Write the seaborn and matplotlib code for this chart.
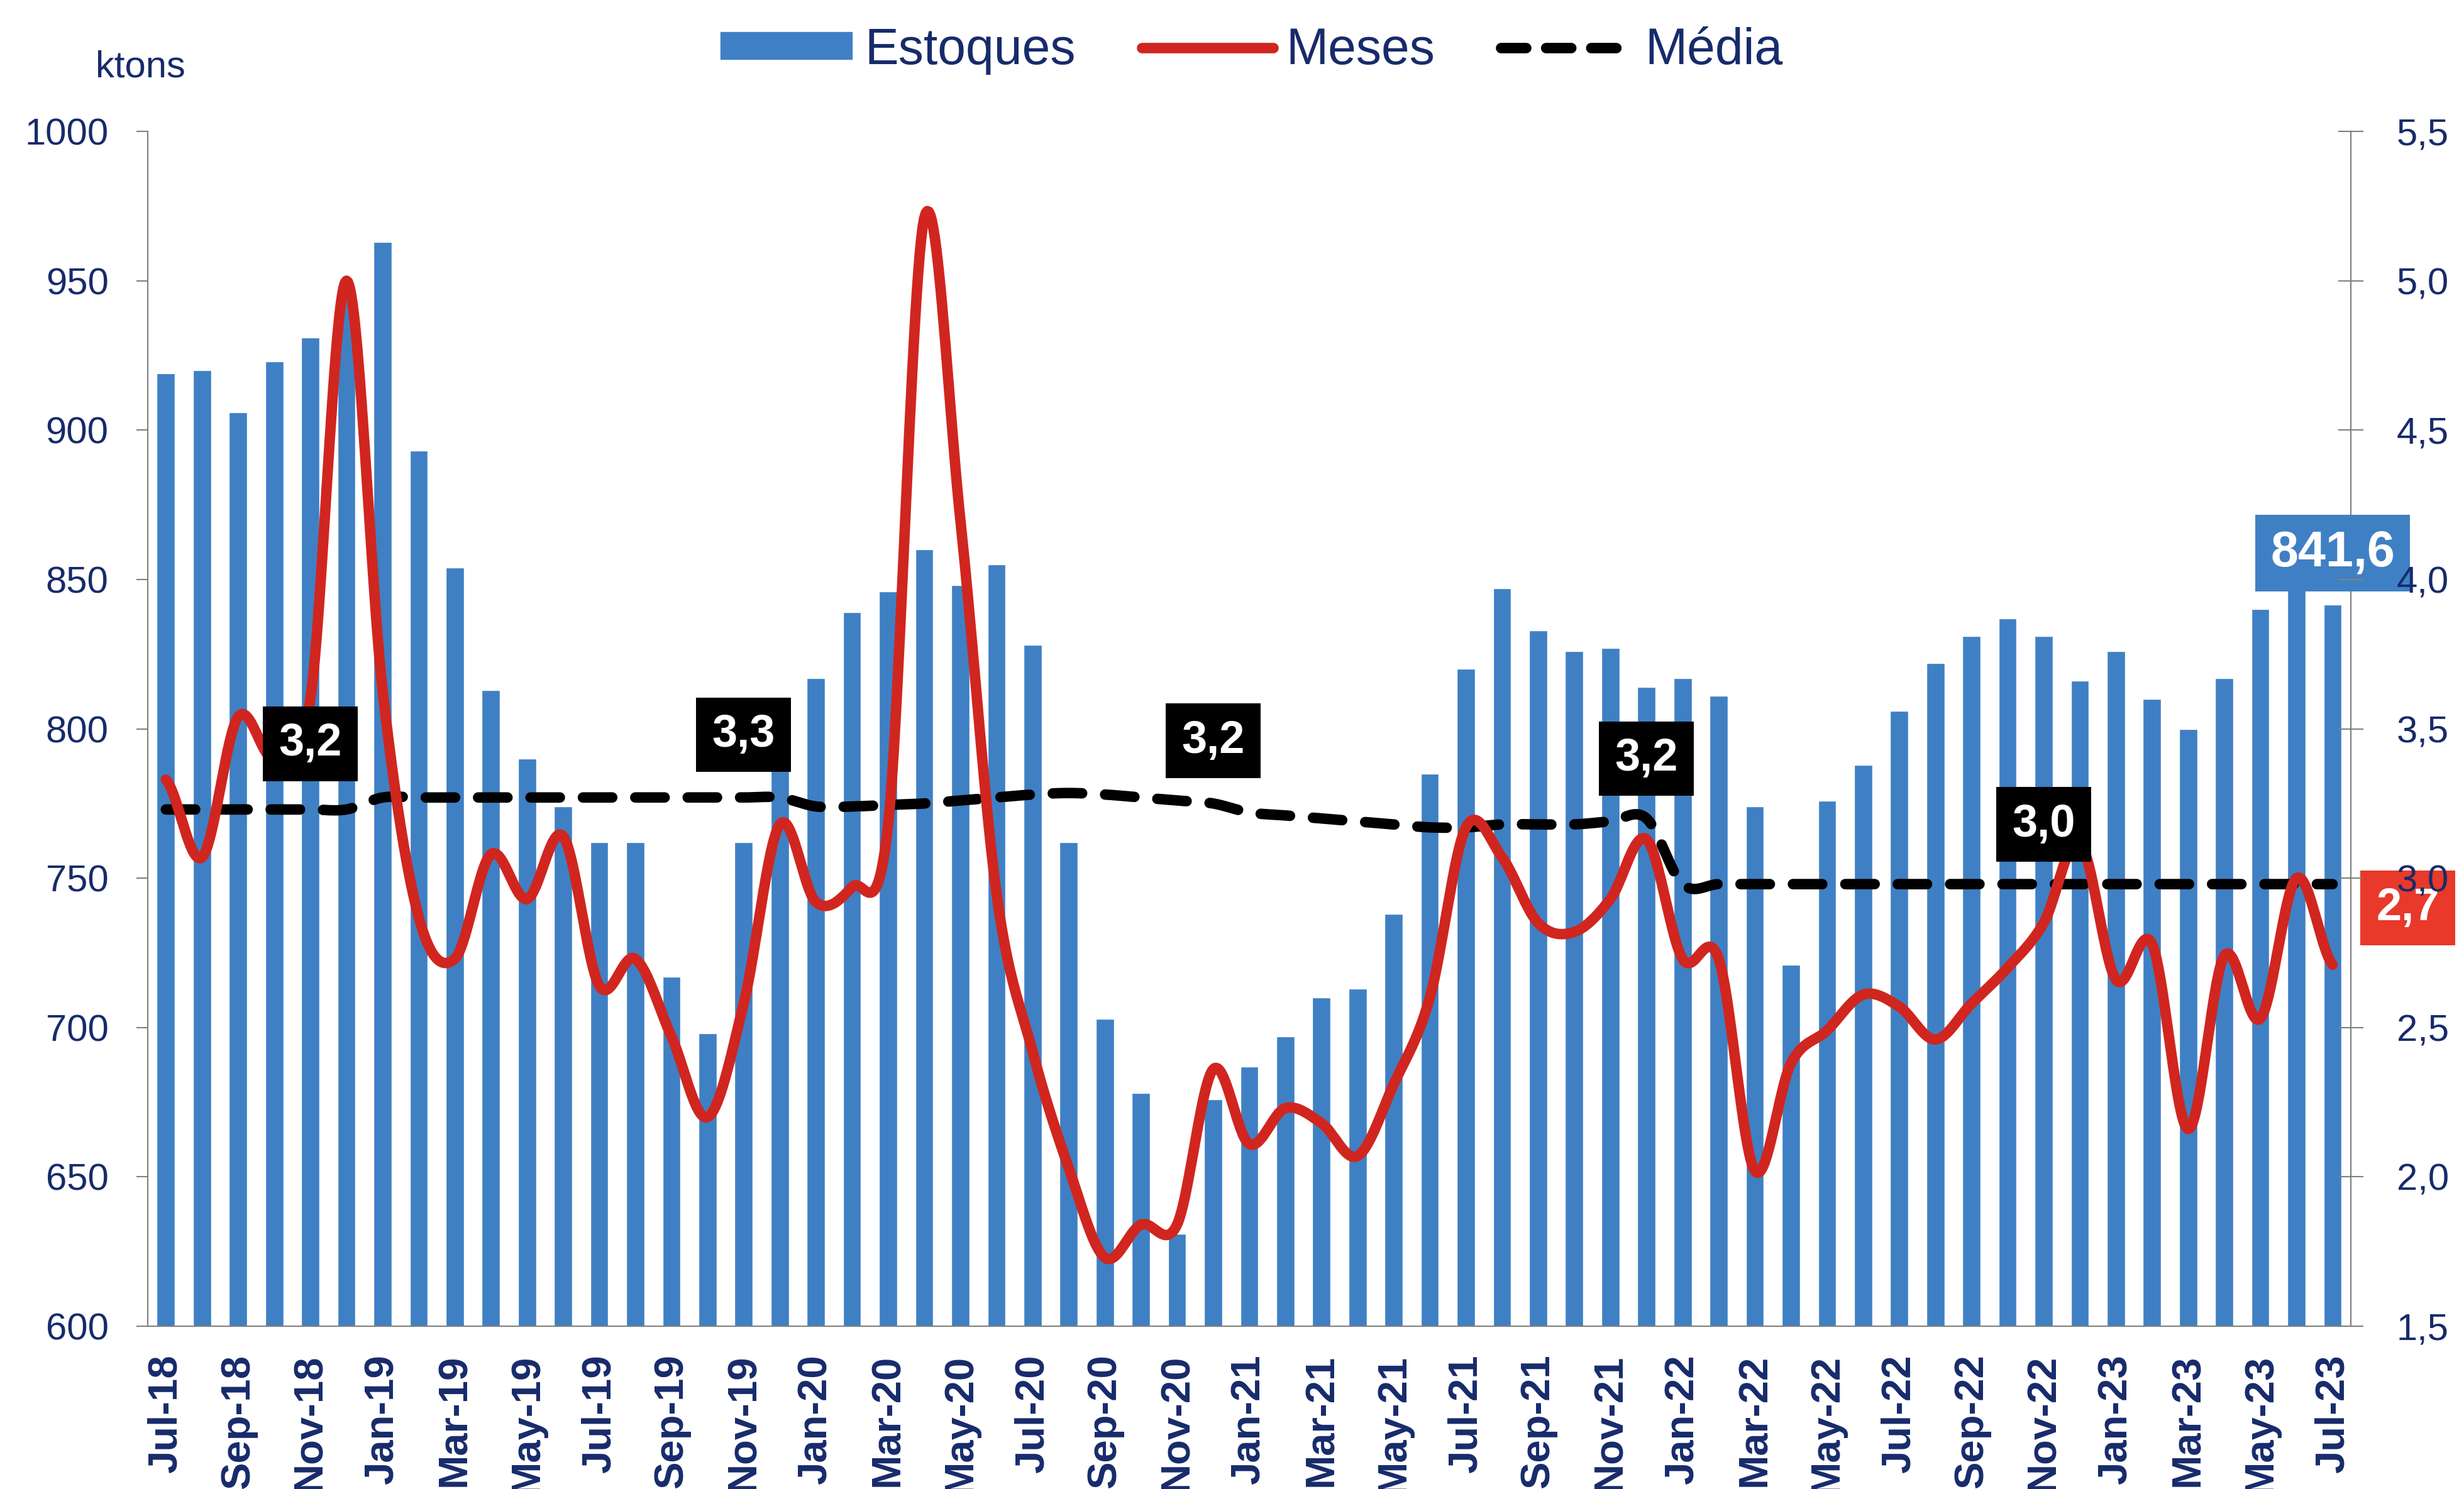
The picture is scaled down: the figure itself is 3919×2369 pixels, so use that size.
import matplotlib
matplotlib.use('Agg')
import matplotlib.pyplot as plt
import numpy as np
import pandas as pd
import seaborn as sns
from matplotlib.patches import Patch
from matplotlib.lines import Line2D

# monthly data Jul-18 .. Jul-23
months = pd.date_range('2018-07-01', periods=61, freq='MS').strftime('%b-%y').tolist()

estoques = [919, 920, 906, 923, 931, 945, 963, 893, 854, 813, 790, 774,
            762, 762, 717, 698, 762, 800, 817, 839, 846, 860, 848, 855,
            828, 762, 703, 678, 631, 676, 687, 697, 710, 713, 738, 785,
            820, 847, 833, 826, 827, 814, 817, 811, 774, 721, 776, 788,
            806, 822, 831, 837, 831, 816, 826, 810, 800, 817, 840, 855,
            841.6]

meses = [3.33, 3.07, 3.54, 3.40, 3.60, 5.00, 3.63, 2.87, 2.73, 3.08, 2.93, 3.14,
         2.64, 2.73, 2.47, 2.20, 2.58, 3.18, 2.92, 2.97, 3.18, 5.21, 4.20, 2.95,
         2.42, 2.03, 1.73, 1.84, 1.84, 2.36, 2.11, 2.23, 2.18, 2.07, 2.31, 2.60,
         3.17, 3.07, 2.85, 2.82, 2.93, 3.13, 2.73, 2.73, 2.02, 2.38, 2.49, 2.61,
         2.57, 2.46, 2.58, 2.70, 2.85, 3.12, 2.66, 2.78, 2.16, 2.74, 2.53, 3.00,
         2.71]

media = [3.23, 3.23, 3.23, 3.23, 3.23, 3.23, 3.27, 3.27, 3.27, 3.27, 3.27, 3.27,
         3.27, 3.27, 3.27, 3.27, 3.27, 3.27, 3.24, 3.24, 3.245, 3.25, 3.26, 3.27,
         3.28, 3.285, 3.28, 3.27, 3.26, 3.25, 3.22, 3.21, 3.20, 3.19, 3.18, 3.17,
         3.17, 3.18, 3.18, 3.18, 3.19, 3.20, 2.98, 2.98, 2.98, 2.98, 2.98, 2.98,
         2.98, 2.98, 2.98, 2.98, 2.98, 2.98, 2.98, 2.98, 2.98, 2.98, 2.98, 2.98,
         2.98]

# labels on the average line (month index, text)
media_labels = [(4, '3,2'), (16, '3,3'), (29, '3,2'), (41, '3,2'), (52, '3,0')]
media_label_y = [3.45, 3.48, 3.46, 3.40, 3.18]

NAVY = '#172b6b'
BLUE = '#3f80c4'
RED = '#d0261f'


def smooth(vals, n=24):
    # catmull-rom, like the smoothed lines in excel
    v = np.asarray(vals, float)
    p = np.r_[v[0], v, v[-1]]
    t = np.linspace(0, 1, n, endpoint=False)
    xs, ys = [], []
    for i in range(len(v) - 1):
        p0, p1, p2, p3 = p[i], p[i + 1], p[i + 2], p[i + 3]
        y = 0.5 * (2 * p1 + (-p0 + p2) * t + (2 * p0 - 5 * p1 + 4 * p2 - p3) * t ** 2
                   + (-p0 + 3 * p1 - 3 * p2 + p3) * t ** 3)
        xs.append(i + t)
        ys.append(y)
    xs.append([len(v) - 1])
    ys.append([v[-1]])
    return np.concatenate(xs), np.concatenate(ys)


sns.set_style('white')
plt.rcParams['font.family'] = ['Liberation Sans', 'DejaVu Sans']

fig = plt.figure(figsize=(39.19, 23.69), dpi=100)
ax = fig.add_axes([0.060, 0.1093, 0.894, 0.8025])

df = pd.DataFrame({'mes': months, 'estoques': estoques})
sns.barplot(data=df, x='mes', y='estoques', color=BLUE, saturation=1,
            width=0.5, ax=ax, zorder=2)
ax.set_xlim(-0.5, 60.5)
ax.set_ylim(600, 1000)
ax.set_yticks(range(600, 1001, 50))
ax.set_xlabel('')
ax.set_ylabel('')

ax.set_xticks(range(0, 61, 2))
ax.set_xticklabels(months[::2], rotation=90, fontweight='bold')
ax.set_xticks(np.arange(-0.5, 61, 2), minor=True)
ax.tick_params(axis='x', which='major', length=0, pad=32, labelsize=47, labelcolor=NAVY)
ax.tick_params(axis='x', which='minor', length=12, width=1.5, color='#808080', direction='out')
ax.tick_params(axis='y', length=13, width=1.5, color='#808080', direction='out',
               pad=32, labelsize=43, labelcolor=NAVY, left=True)

ax.spines['top'].set_visible(False)
for s in ['left', 'bottom', 'right']:
    ax.spines[s].set_color('#808080')
    ax.spines[s].set_linewidth(1.5)

ax2 = ax.twinx()
ax2.set_ylim(1.5, 5.5)
ax2.set_yticks(np.arange(1.5, 5.51, 0.5))
ax2.set_yticklabels([f'{v:.1f}'.replace('.', ',') for v in np.arange(1.5, 5.51, 0.5)])
ax2.tick_params(axis='y', length=29, width=1.5, color='#808080', direction='inout',
                pad=38, labelsize=43, labelcolor=NAVY, right=True)
ax2.spines['top'].set_visible(False)
ax2.spines['left'].set_visible(False)
ax2.spines['bottom'].set_visible(False)
ax2.spines['right'].set_color('#808080')
ax2.spines['right'].set_linewidth(1.5)
ax2.yaxis.set_zorder(10)

mx, my = smooth(media)
ax2.plot(mx, my, color='black', lw=12, linestyle=(0, (2.8, 2.2)),
         dash_capstyle='round', zorder=3)
sx, sy = smooth(meses)
ax2.plot(sx, sy, color=RED, lw=12, solid_capstyle='round', zorder=4)

box = dict(boxstyle='square,pad=0.35', fc='black', ec='none')
for (i, txt), yv in zip(media_labels, media_label_y):
    ax2.text(i, yv, txt, color='white', fontsize=52, fontweight='bold',
             ha='center', va='center', bbox=box, zorder=6)

# last values
ax2.text(60, 858.8, '841,6', transform=ax.transData, color='white', fontsize=57,
         fontweight='bold', ha='center', va='center', zorder=6, clip_on=False,
         bbox=dict(boxstyle='square,pad=0.3', fc=BLUE, ec='none'))
ax2.text(62.08, 2.90, '2,7', color='white', fontsize=52, fontweight='bold',
         ha='center', va='center', zorder=6, clip_on=False,
         bbox=dict(boxstyle='square,pad=0.35', fc='#e8392a', ec='none'))

fig.text(0.057, 0.955, 'ktons', ha='center', va='center', fontsize=43, color=NAVY)

handles = [Patch(color=BLUE, label='Estoques'),
           Line2D([], [], color=RED, lw=12, label='Meses'),
           Line2D([], [], color='black', lw=12, linestyle=(0, (2.4, 1.9)),
                  dash_capstyle='round', label='Média')]
leg = fig.legend(handles=handles, loc='center', bbox_to_anchor=(0.508, 0.966), ncol=3,
                 frameon=False, fontsize=58, handlelength=2.6, handleheight=0.45,
                 handletextpad=0.25, columnspacing=1.3)
for t in leg.get_texts():
    t.set_color(NAVY)

fig.savefig('out.png', dpi=100)
